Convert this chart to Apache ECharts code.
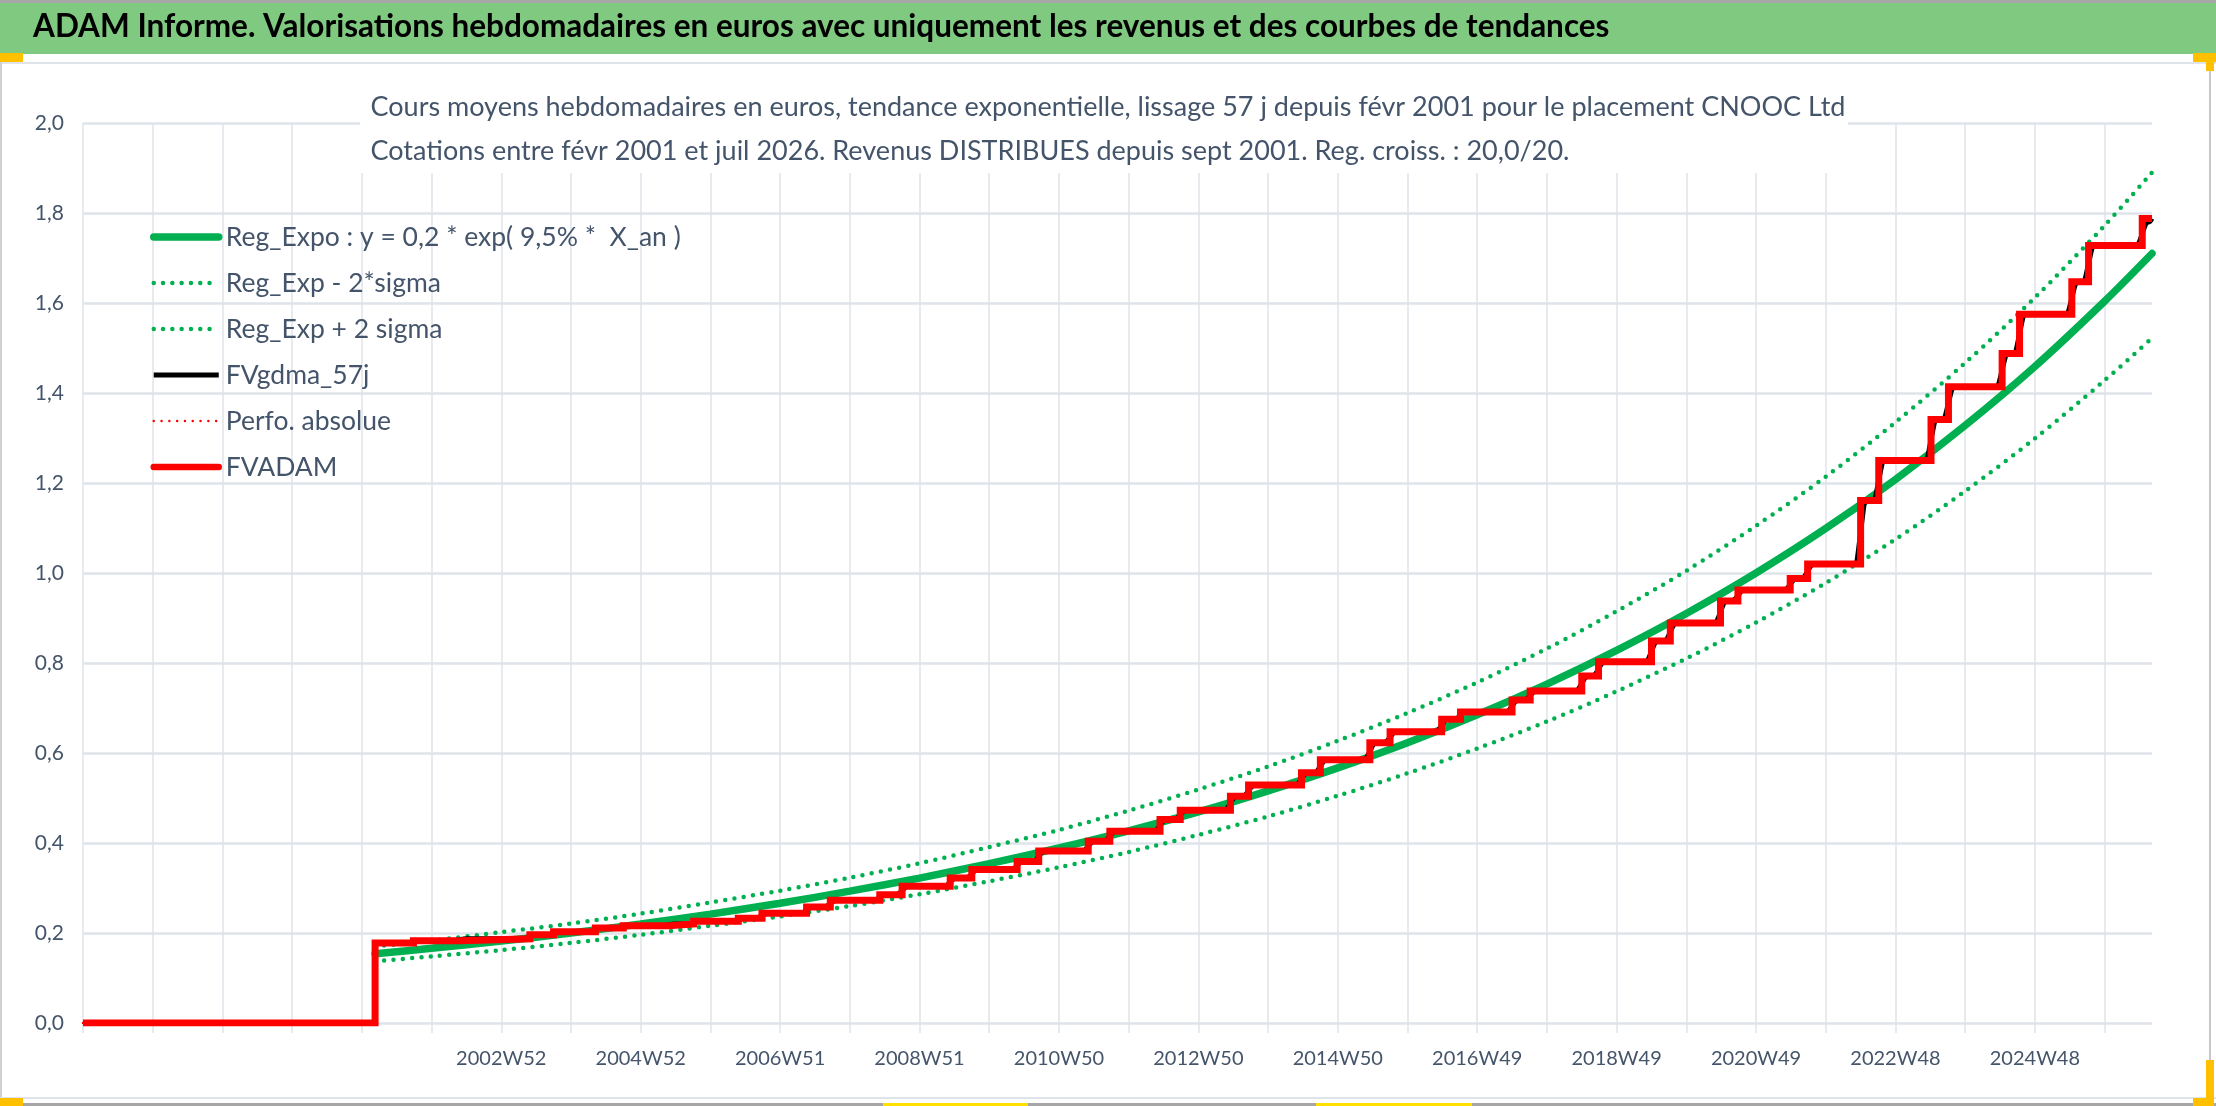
<!DOCTYPE html>
<html>
<head>
<meta charset="utf-8">
<title>ADAM Informe - CNOOC Ltd</title>
<script src="https://cdn.jsdelivr.net/npm/echarts@6/dist/echarts.min.js"></script>
<style>
  html, body { margin: 0; padding: 0; background: #fff; }
  #chart { width: 2216px; height: 1106px; }
</style>
</head>
<body>
<div id="chart"></div>
<script>
// Graduations de l'axe X : une par an, étiquette une sur deux
const xTickLabels = ['', '', '', '', '', '', '2002W52', '', '2004W52', '', '2006W51', '', '2008W51', '',
    '2010W50', '', '2012W50', '', '2014W50', '', '2016W49', '', '2018W49', '', '2020W49', '', '2022W48', '',
    '2024W48', ''];
const xMax = 29.68;

// Courbes de régression (en années depuis le début de l'axe)
const regX =     [4.19, 5, 6, 7, 8, 9, 10, 11, 12, 13, 14, 15, 16, 17, 18, 19, 20, 21, 22, 23, 24, 25, 26, 27, 28, 29, 29.68];
const regExpo =  [0.154, 0.166, 0.182, 0.200, 0.220, 0.242, 0.266, 0.293, 0.322, 0.354, 0.389, 0.427, 0.469, 0.516,
    0.567, 0.623, 0.685, 0.753, 0.828, 0.910, 1.000, 1.099, 1.208, 1.328, 1.459, 1.604, 1.710];
const regMinus = [0.137, 0.148, 0.162, 0.178, 0.196, 0.216, 0.237, 0.260, 0.286, 0.315, 0.346, 0.380, 0.418, 0.459,
    0.505, 0.555, 0.610, 0.670, 0.737, 0.810, 0.890, 0.978, 1.075, 1.182, 1.299, 1.428, 1.522];
const regPlus =  [0.170, 0.183, 0.202, 0.221, 0.243, 0.268, 0.294, 0.323, 0.355, 0.391, 0.429, 0.472, 0.519, 0.570,
    0.627, 0.689, 0.757, 0.832, 0.915, 1.005, 1.105, 1.214, 1.335, 1.467, 1.612, 1.772, 1.890];

// FVADAM : paliers (date du saut, valeur après le saut)
const stepX =     [0, 4.19, 4.74, 5.41, 6.41, 6.75, 7.35, 7.75, 8.40, 8.76, 9.40, 9.74, 10.38, 10.72, 11.43, 11.75,
    12.44, 12.75, 13.40, 13.71, 14.42, 14.73, 15.45, 15.74, 16.46, 16.72, 17.48, 17.75, 18.46, 18.75, 19.49, 19.76,
    20.50, 20.76, 21.50, 21.74, 22.50, 22.77, 23.49, 23.74, 24.49, 24.74, 25.50, 25.76, 26.51, 26.76, 27.53, 27.78,
    28.53, 28.77, 29.54, 29.68];
const stepValue = [0, 0.178, 0.183, 0.187, 0.196, 0.203, 0.211, 0.216, 0.220, 0.226, 0.233, 0.244, 0.258, 0.273,
    0.285, 0.304, 0.322, 0.341, 0.359, 0.382, 0.404, 0.426, 0.452, 0.473, 0.504, 0.529, 0.556, 0.585, 0.623, 0.647,
    0.675, 0.691, 0.718, 0.738, 0.771, 0.803, 0.849, 0.889, 0.938, 0.962, 0.988, 1.020, 1.161, 1.250, 1.341, 1.414,
    1.488, 1.575, 1.647, 1.728, 1.788, 1.788];

// FVgdma_57j : moyenne mobile, passe en douceur d'un palier à l'autre
const gdmaX = [4.19, 4.65, 4.83, 5.32, 5.50, 6.32, 6.50, 6.66, 6.84, 7.26, 7.44, 7.66, 7.84, 8.31, 8.49, 8.67, 8.85,
    9.31, 9.49, 9.65, 9.83, 10.29, 10.47, 10.63, 10.81, 11.34, 11.52, 11.66, 11.84, 12.35, 12.53, 12.66, 12.84,
    13.31, 13.49, 13.62, 13.80, 14.33, 14.51, 14.64, 14.82, 15.36, 15.54, 15.65, 15.83, 16.37, 16.55, 16.63, 16.81,
    17.39, 17.57, 17.66, 17.84, 18.37, 18.55, 18.66, 18.84, 19.40, 19.58, 19.67, 19.85, 20.41, 20.59, 20.67, 20.85,
    21.41, 21.59, 21.65, 21.83, 22.41, 22.59, 22.68, 22.86, 23.40, 23.58, 23.65, 23.83, 24.40, 24.58, 24.65, 24.83,
    25.41, 25.59, 25.67, 25.85, 26.42, 26.60, 26.67, 26.85, 27.44, 27.62, 27.69, 27.87, 28.44, 28.62, 28.68, 28.86,
    29.45, 29.63, 29.68];
const gdmaValue = [0.178, 0.178, 0.183, 0.183, 0.187, 0.187, 0.196, 0.196, 0.203, 0.203, 0.211, 0.211, 0.216, 0.216,
    0.220, 0.220, 0.226, 0.226, 0.233, 0.233, 0.244, 0.244, 0.258, 0.258, 0.273, 0.273, 0.285, 0.285, 0.304, 0.304,
    0.322, 0.322, 0.341, 0.341, 0.359, 0.359, 0.382, 0.382, 0.404, 0.404, 0.426, 0.426, 0.452, 0.452, 0.473, 0.473,
    0.504, 0.504, 0.529, 0.529, 0.556, 0.556, 0.585, 0.585, 0.623, 0.623, 0.647, 0.647, 0.675, 0.675, 0.691, 0.691,
    0.718, 0.718, 0.738, 0.738, 0.771, 0.771, 0.803, 0.803, 0.849, 0.849, 0.889, 0.889, 0.938, 0.938, 0.962, 0.962,
    0.988, 0.988, 1.020, 1.020, 1.161, 1.161, 1.250, 1.250, 1.341, 1.341, 1.414, 1.414, 1.488, 1.488, 1.575, 1.575,
    1.647, 1.647, 1.728, 1.728, 1.780, 1.788];

const headerText = 'ADAM Informe. Valorisations hebdomadaires en euros avec uniquement les revenus et des courbes de tendances';
const titleLines = [
    'Cours moyens hebdomadaires en euros, tendance exponentielle, lissage 57 j depuis févr 2001 pour le placement CNOOC Ltd',
    'Cotations entre févr 2001 et juil 2026. Revenus DISTRIBUES depuis sept 2001. Reg. croiss. : 20,0/20.'
];

const FONT = 'Lato, "Noto Sans", sans-serif';
const TEXT_COLOR = '#44546A';
const GRID_COLOR = '#dfe3ea';
const GREEN = '#00B050';
const RED = '#FF0000';

function pairs(xs, ys) {
    return xs.map((x, i) => [x, ys[i]]);
}

// styles des traits (graphique et légende)
const styleExpo = { color: GREEN, width: 7.5, cap: 'round' };
const styleSigma = { color: GREEN, width: 4.5, type: [0, 9.3], cap: 'round' };
const styleGdma = { color: '#000', width: 5 };
const stylePerfo = { color: RED, width: 2.5, type: [0, 7.8], cap: 'round' };
const styleAdam = { color: RED, width: 7, join: 'miter' };

const names = ['Reg_Expo : y = 0,2 * exp( 9,5% *  X_an )', 'Reg_Exp - 2*sigma', 'Reg_Exp + 2 sigma',
    'FVgdma_57j', 'Perfo. absolue', 'FVADAM'];
const legendStyles = [styleExpo, styleSigma, styleSigma, styleGdma, stylePerfo, { color: RED, width: 6.5, cap: 'round' }];

const chart = echarts.init(document.getElementById('chart'), null, { renderer: 'canvas' });

const option = {
    animation: false,
    backgroundColor: '#fff',
    textStyle: { fontFamily: FONT },
    title: [
        {
            text: headerText,
            left: 33,
            top: 11,
            padding: 0,
            textStyle: { fontFamily: FONT, fontSize: 31.5, fontWeight: 'bold', color: '#000' }
        },
        {
            text: titleLines.join('\n'),
            left: 'center',
            top: 85,
            padding: 0,
            textAlign: 'left',
            textStyle: { fontFamily: FONT, fontSize: 27, fontWeight: 'normal', color: TEXT_COLOR, lineHeight: 44, align: 'center' }
        }
    ],
    graphic: [
        // bandeau vert du titre
        { type: 'rect', z: 1, shape: { x: 0, y: 0, width: 2216, height: 3 }, style: { fill: '#a6a6a6' } },
        { type: 'rect', z: 1, shape: { x: 0, y: 3, width: 2216, height: 51 }, style: { fill: '#80C980' } },
        { type: 'rect', z: 1, shape: { x: 0, y: 62, width: 2216, height: 2 }, style: { fill: '#dfe3ea' } },
        // bords de la feuille
        { type: 'rect', z: 1, shape: { x: 0, y: 54, width: 2, height: 1052 }, style: { fill: '#d0d0d0' } },
        { type: 'rect', z: 1, shape: { x: 2209, y: 54, width: 2, height: 1052 }, style: { fill: '#c8c8c8' } },
        { type: 'rect', z: 1, shape: { x: 0, y: 1097, width: 2216, height: 2 }, style: { fill: '#dfe3ea' } },
        { type: 'rect', z: 1, shape: { x: 0, y: 1103, width: 2216, height: 3 }, style: { fill: '#a6a6a6' } },
        // poignées de sélection
        { type: 'rect', z: 2, shape: { x: 0, y: 53, width: 23, height: 9 }, style: { fill: '#FFC000' } },
        { type: 'rect', z: 2, shape: { x: 2193, y: 53, width: 23, height: 9 }, style: { fill: '#FFC000' } },
        { type: 'rect', z: 2, shape: { x: 2206, y: 53, width: 8, height: 18 }, style: { fill: '#FFC000' } },
        { type: 'rect', z: 2, shape: { x: 0, y: 1098, width: 23, height: 8 }, style: { fill: '#FFC000' } },
        { type: 'rect', z: 2, shape: { x: 2206, y: 1060, width: 8, height: 46 }, style: { fill: '#FFC000' } },
        { type: 'rect', z: 2, shape: { x: 2193, y: 1098, width: 21, height: 8 }, style: { fill: '#FFC000' } },
        { type: 'rect', z: 2, shape: { x: 883, y: 1103, width: 145, height: 3 }, style: { fill: '#FFE000' } },
        { type: 'rect', z: 2, shape: { x: 1316, y: 1103, width: 156, height: 3 }, style: { fill: '#FFE000' } },
        // fond blanc sous le titre du graphique (masque le quadrillage)
        { type: 'rect', z: 5, shape: { x: 360, y: 80, width: 1488, height: 93 }, style: { fill: '#fff' } }
    ],
    legend: {
        orient: 'vertical',
        left: 150,
        top: 222,
        itemWidth: 65,
        itemHeight: 14,
        itemGap: 16,
        padding: 0,
        selectedMode: false,
        itemStyle: { opacity: 0 },
        textStyle: { fontFamily: FONT, fontSize: 26.5, color: TEXT_COLOR, lineHeight: 30, padding: [0, 0, 0, 2] },
        data: names.map((n, i) => ({ name: n, lineStyle: legendStyles[i] }))
    },
    grid: { left: 83, right: 64, top: 123, bottom: 83, containLabel: false },
    xAxis: {
        type: 'value',
        min: 0,
        max: xMax,
        interval: 1,
        axisLine: { show: false },
        axisTick: { show: true, length: 10, lineStyle: { color: GRID_COLOR, width: 1.5 } },
        splitLine: { show: true, showMaxLine: false, lineStyle: { color: GRID_COLOR, width: 1.5 } },
        axisLabel: {
            margin: 26,
            fontFamily: FONT,
            fontSize: 20,
            color: TEXT_COLOR,
            showMaxLabel: false,
            formatter: v => (Number.isInteger(v) ? (xTickLabels[v] || '') : '')
        }
    },
    yAxis: {
        type: 'value',
        min: 0,
        max: 2,
        interval: 0.2,
        axisLine: { show: false },
        axisTick: { show: false },
        splitLine: { show: true, lineStyle: { color: GRID_COLOR, width: 2.5 } },
        axisLabel: {
            margin: 19,
            fontFamily: FONT,
            fontSize: 21,
            color: TEXT_COLOR,
            formatter: v => v.toFixed(1).replace('.', ',')
        }
    },
    series: [
        {
            name: names[0],
            type: 'line',
            data: pairs(regX, regExpo),
            smooth: 0.3,
            symbol: 'none',
            color: GREEN,
            lineStyle: styleExpo
        },
        {
            name: names[1],
            type: 'line',
            data: pairs(regX, regMinus),
            smooth: 0.3,
            symbol: 'none',
            color: GREEN,
            lineStyle: styleSigma
        },
        {
            name: names[2],
            type: 'line',
            data: pairs(regX, regPlus),
            smooth: 0.3,
            symbol: 'none',
            color: GREEN,
            lineStyle: styleSigma
        },
        {
            name: names[3],
            type: 'line',
            data: pairs(gdmaX, gdmaValue),
            smooth: 0.4,
            smoothMonotone: 'x',
            symbol: 'none',
            color: '#000',
            lineStyle: styleGdma
        },
        {
            name: names[4],
            type: 'line',
            data: pairs(stepX, stepValue),
            step: 'end',
            symbol: 'none',
            color: RED,
            lineStyle: stylePerfo
        },
        {
            name: names[5],
            type: 'line',
            data: pairs(stepX, stepValue),
            step: 'end',
            symbol: 'none',
            color: RED,
            lineStyle: styleAdam
        }
    ]
};

chart.setOption(option);

window.addEventListener('resize', () => {
    chart && chart.resize();
});
</script>
</body>
</html>
